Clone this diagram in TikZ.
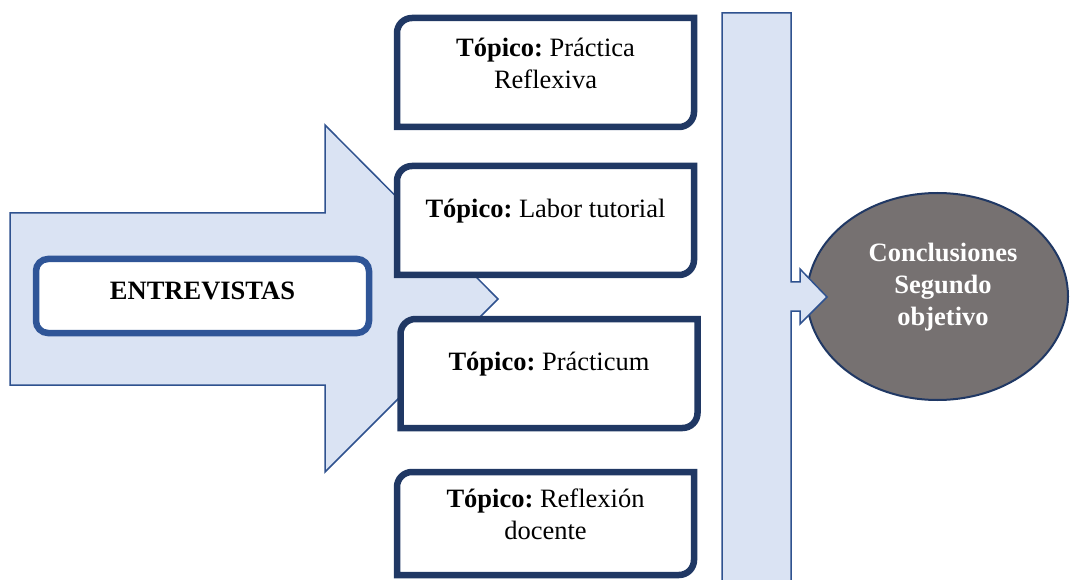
\documentclass[tikz,border=0pt]{standalone}
\usepackage{fontspec}
\setmainfont{Liberation Serif}
\usetikzlibrary{calc}
\frenchspacing
\definecolor{arrowfill}{RGB}{218,227,243}
\definecolor{arrowline}{RGB}{47,82,143}
\definecolor{boxblue}{RGB}{47,85,151}
\definecolor{topicnavy}{RGB}{32,56,100}
\definecolor{conclgray}{RGB}{118,113,113}
\tikzset{
    lab/.style={
        font=\fontsize{26.5}{32}\selectfont
    },
    blockarrow/.style={fill=arrowfill, draw=arrowline, line width=1.5pt},
    interview/.style={lab, draw=boxblue, fill=white, line width=6.5pt,
        rounded corners=12pt, minimum width=333pt, minimum height=74pt,
        text depth=10pt},
    topicframe/.style={draw=topicnavy, fill=white, line width=6.5pt},
    topic/.style={lab, align=center},
    concl/.style={fill=conclgray, draw=topicnavy, line width=2pt},
    concltext/.style={font=\fontsize{26.5}{32}\selectfont\bfseries,
        text=white, align=center}
}

\begin{document}
\begin{tikzpicture}[x=1pt,y=1pt,line join=miter]

% page frame
    \useasboundingbox (0,0) rectangle (1070,579);
    \clip (0,0) rectangle (1070,579);

% --- geometry ---
    \def\bw{148.5}   % half width of a topic box
    \def\rc{15}      % corner radius of a topic box

% big arrow on the left
    \draw[blockarrow] (10,366) -- (325,366) -- (325,454) -- (498,280)
        -- (325,107) -- (325,194) -- (10,194) -- cycle;

% conclusion ellipse
    \filldraw[concl] (937.5,282.5) ellipse[x radius=130.5, y radius=103.5];

% vertical bar with its arrow into the ellipse
    \draw[blockarrow] (722,-10) -- (722,566) -- (791,566) -- (791,297)
        -- (800,297) -- (800,310) -- (827,282) -- (800,255) -- (800,268)
        -- (791,268) -- (791,-10) -- cycle;

% interviews box
    \node[interview] (entrevistas) at (202.5,283) {\textbf{ENTREVISTAS}};

% topic frames (round top left and bottom right corners)
    \foreach \n/\cx/\cy/\hh in {boxA/545.5/506.5/54.5, boxB/545.5/358.5/54.5,
                                boxC/549/205.5/54.5, boxD/545.5/55.5/51.5}{
      \coordinate (\n) at (\cx,\cy);
      \filldraw[topicframe] ($(\n)+(-\bw,\hh-\rc)$)
          arc[start angle=180, end angle=90, radius=\rc]
          -- ($(\n)+(\bw,\hh)$) -- ($(\n)+(\bw,\rc-\hh)$)
          arc[start angle=0, end angle=-90, radius=\rc]
          -- ($(\n)+(-\bw,-\hh)$) -- cycle;
    }

% topic labels
    \node[topic] (topA) at ($(boxA)+(0,9.5)$) {\textbf{Tópico:} Práctica\\Reflexiva};
    \node[topic] (topB) at ($(boxB)+(0,9.5)$) {\textbf{Tópico:} Labor tutorial};
    \node[topic] (topC) at ($(boxC)+(0,9.5)$) {\textbf{Tópico:} Prácticum};
    \node[topic] (topD) at ($(boxD)+(0,9.5)$) {\textbf{Tópico:} Reflexión\\docente};

% conclusion label
    \node[concltext] (conclusiones) at (943,292) {Conclusiones\\Segundo\\objetivo};

\end{tikzpicture}
\end{document}
